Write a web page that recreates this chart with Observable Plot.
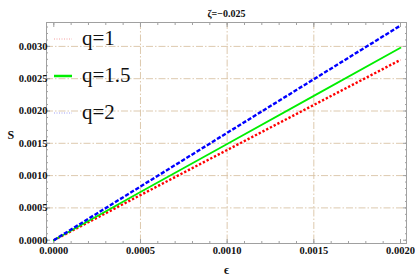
<!DOCTYPE html>
<html>
<head>
<meta charset="utf-8">
<script src="https://cdn.jsdelivr.net/npm/d3@7"></script>
<script src="https://cdn.jsdelivr.net/npm/@observablehq/plot@0.6"></script>
<style>
  html, body { margin: 0; padding: 0; background: #fff; }
  #wrap { position: relative; width: 415px; height: 280px; }
  #legend { position: absolute; left: 54px; top: 20px; font-family: "Liberation Serif", serif; font-size: 21px; color: #111; }
  #legend .row { display: flex; align-items: center; height: 37px; }
  #legend svg { margin-right: 10px; }
</style>
</head>
<body>
<div id="wrap"></div>
<script>
const title = "ζ=−0.025";
const xLabel = "ϵ";
const yLabel = "S";
const epsilon = [0, 0.0005, 0.0010, 0.0015, 0.0020];
const sQ1 = [0, 0.000698, 0.001396, 0.002094, 0.002792];
const sQ15 = [0, 0.000745, 0.001489, 0.002234, 0.002978];
const sQ2 = [0, 0.000831, 0.001662, 0.002492, 0.003323];
const seriesNames = ["q=1", "q=1.5", "q=2"];
const seriesColors = ["#ff0000", "#00ee00", "#0000ff"];
const xTicks = [0, 0.0005, 0.0010, 0.0015, 0.0020];
const yTicks = [0, 0.0005, 0.0010, 0.0015, 0.0020, 0.0025, 0.0030];
const xMinor = d3.range(0, 21).map(i => i * 0.0001);
const yMinor = d3.range(0, 34).map(i => i * 0.0001);

const data = [];
[sQ1, sQ15, sQ2].forEach((arr, k) => arr.forEach((v, i) => data.push({x: epsilon[i], y: v, q: seriesNames[k]})));

const font = "Liberation Serif";
const gridStyle = {stroke: "#d9c3a5", strokeOpacity: 1, strokeWidth: 0.9, strokeDasharray: "7,2,1.5,2"};
const fmt = d => d.toFixed(4);
const none = () => "";
const tickColor = "#a0a0a0";

const plot = Plot.plot({
  width: 415,
  height: 280,
  marginLeft: 46,
  marginRight: 9,
  marginTop: 22,
  marginBottom: 37,
  style: {fontFamily: font, fontSize: "10.5px", fontWeight: "bold", color: "#111", background: "#fff"},
  x: {domain: [-0.0000421, 0.0020346]},
  y: {domain: [-0.0000511, 0.00337]},
  marks: [
    Plot.gridX(xTicks.slice(1, 4), gridStyle),
    Plot.gridY(yTicks.slice(1), gridStyle),
    Plot.frame({stroke: tickColor, strokeWidth: 1}),
    Plot.axisX(xMinor, {tickSize: -2, tickFormat: none, stroke: tickColor, label: null}),
    Plot.axisX(xTicks, {tickSize: -4, tickFormat: fmt, stroke: tickColor, tickPadding: 7, label: null, fontWeight: "bold"}),
    Plot.axisX(xMinor, {anchor: "top", tickSize: -2, tickFormat: none, stroke: tickColor, label: null}),
    Plot.axisX(xTicks, {anchor: "top", tickSize: -4, tickFormat: none, stroke: tickColor, label: null}),
    Plot.axisY(yMinor, {tickSize: -2, tickFormat: none, stroke: tickColor, label: null}),
    Plot.axisY(yTicks, {tickSize: -4, tickFormat: fmt, stroke: tickColor, tickPadding: 3, label: null, fontWeight: "bold"}),
    Plot.axisY(yMinor, {anchor: "right", tickSize: -2, tickFormat: none, stroke: tickColor, label: null}),
    Plot.axisY(yTicks, {anchor: "right", tickSize: -4, tickFormat: none, stroke: tickColor, label: null}),
    Plot.line(data.filter(d => d.q === "q=1"), {x: "x", y: "y", stroke: seriesColors[0], strokeWidth: 2.4, strokeDasharray: "2.3,1.9", strokeLinecap: "butt"}),
    Plot.line(data.filter(d => d.q === "q=1.5"), {x: "x", y: "y", stroke: seriesColors[1], strokeWidth: 1.8}),
    Plot.line(data.filter(d => d.q === "q=2"), {x: "x", y: "y", stroke: seriesColors[2], strokeWidth: 2.4, strokeDasharray: "4.2,1.8", strokeLinecap: "butt"}),
    Plot.text([title], {frameAnchor: "top", dy: -13, fontSize: 10, fontWeight: "bold", fontFamily: font}),
    Plot.text([xLabel], {frameAnchor: "bottom", dy: 30, fontSize: 12, fontWeight: "bold", fontFamily: font}),
    Plot.text([yLabel], {frameAnchor: "left", dx: -39, dy: 2, fontSize: 12, fontWeight: "bold", fontFamily: font})
  ]
});

const wrap = document.getElementById("wrap");
wrap.appendChild(plot);

const legend = document.createElement("div");
legend.id = "legend";
const legendStyles = [
  {color: "#f4a0a0", dash: "1,1.5", w: 1},
  {color: seriesColors[1], dash: null, w: 2.5},
  {color: "#a0a0f4", dash: "1,1.5", w: 1}
];
seriesNames.forEach((name, i) => {
  const row = document.createElement("div");
  row.className = "row";
  const st = legendStyles[i];
  row.innerHTML = `<svg width="18" height="10"><line x1="0" y1="5" x2="18" y2="5" stroke="${st.color}" stroke-width="${st.w}" ${st.dash ? `stroke-dasharray="${st.dash}"` : ""}/></svg><span>${name}</span>`;
  legend.appendChild(row);
});
wrap.appendChild(legend);
</script>
</body>
</html>
